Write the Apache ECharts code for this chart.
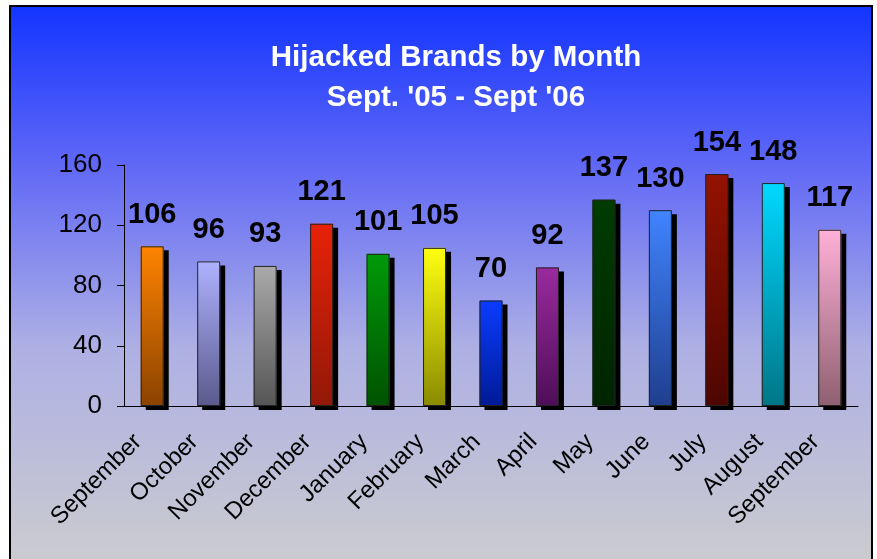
<!DOCTYPE html>
<html>
<head>
<meta charset="utf-8">
<script src="https://cdn.jsdelivr.net/npm/echarts@6/dist/echarts.min.js"></script>
<style>
    html, body { margin: 0; padding: 0; background: #ffffff; }
    #chart { width: 877px; height: 559px; }
</style>
</head>
<body>
<div id="chart"></div>
<script>
    // data
    var months = ['September', 'October', 'November', 'December', 'January', 'February', 'March',
        'April', 'May', 'June', 'July', 'August', 'September'];
    var hijacked = [106, 96, 93, 121, 101, 105, 70, 92, 137, 130, 154, 148, 117];
    var yTicks = [0, 40, 80, 120, 160];

    // bar colours, top -> bottom
    var topColors = ['#ff8400', '#aeb2ff', '#aaaaaa', '#e82208', '#009a0a', '#ffff10', '#0a3cff',
        '#9a2a9e', '#003c00', '#4084ff', '#941200', '#00d8ff', '#ffb0d8'];
    var bottomColors = ['#8a4200', '#5a5a8c', '#555555', '#921808', '#005200', '#8a8a00', '#001a96',
        '#4e0e58', '#002400', '#203e8e', '#4e0600', '#007688', '#8e6070'];

    var font = 'Liberation Sans, Arial, sans-serif';
    var chart = echarts.init(document.getElementById('chart'));

    var barData = hijacked.map(function (v, i) {
        return {
            value: v,
            itemStyle: {
                color: new echarts.graphic.LinearGradient(0, 0, 0, 1, [
                    {offset: 0, color: topColors[i]},
                    {offset: 1, color: bottomColors[i]}
                ])
            }
        };
    });

    var option = {
        animation: false,
        graphic: [{
            type: 'rect',
            z: -10,
            shape: {x: 10, y: 6, width: 862, height: 570},
            style: {
                fill: new echarts.graphic.LinearGradient(0, 0, 0, 1, [
                    {offset: 0, color: '#1234ff'},
                    {offset: 0.28, color: '#6068f6'},
                    {offset: 0.6, color: '#aeb0e4'},
                    {offset: 1, color: '#cdcdcd'}
                ]),
                stroke: '#000000',
                lineWidth: 2
            }
        }],
        title: {
            text: 'Hijacked Brands by Month\nSept. \'05 - Sept \'06',
            left: 451,
            top: 33,
            textAlign: 'center',
            textStyle: {
                color: '#ffffff',
                fontFamily: font,
                fontSize: 29.5,
                fontWeight: 'bold',
                lineHeight: 40
            }
        },
        grid: {
            left: 124,
            right: 19,
            top: 165,
            bottom: 153
        },
        xAxis: {
            type: 'category',
            data: months,
            axisLine: {lineStyle: {color: '#000000', width: 1}},
            axisTick: {length: 6, lineStyle: {color: '#000000'}},
            axisLabel: {
                rotate: 45,
                margin: 18,
                padding: [0, 20, 0, 0],
                color: '#000000',
                fontFamily: font,
                fontSize: 24,
                interval: 0
            }
        },
        yAxis: {
            type: 'value',
            min: yTicks[0],
            max: yTicks[yTicks.length - 1],
            interval: 40,
            splitLine: {show: false},
            axisLine: {show: true, lineStyle: {color: '#000000', width: 1}},
            axisTick: {show: true, length: 7, lineStyle: {color: '#000000'}},
            axisLabel: {
                margin: 22,
                color: '#000000',
                fontFamily: font,
                fontSize: 26
            }
        },
        series: [{
            // filled bars with the hard black drop shadow
            type: 'bar',
            data: barData,
            barWidth: 23,
            barGap: '-100%',
            itemStyle: {
                borderWidth: 0,
                shadowColor: '#000000',
                shadowBlur: 0,
                shadowOffsetX: 5,
                shadowOffsetY: 4
            },
            label: {
                show: true,
                position: 'top',
                distance: 17,
                color: '#000000',
                fontFamily: font,
                fontSize: 29,
                fontWeight: 'bold'
            }
        }, {
            // thin outline on top, no shadow
            type: 'bar',
            data: hijacked,
            barWidth: 23,
            barGap: '-100%',
            itemStyle: {
                color: 'rgba(0,0,0,0)',
                borderColor: '#222222',
                borderWidth: 1
            }
        }]
    };

    chart.setOption(option);
</script>
</body>
</html>
